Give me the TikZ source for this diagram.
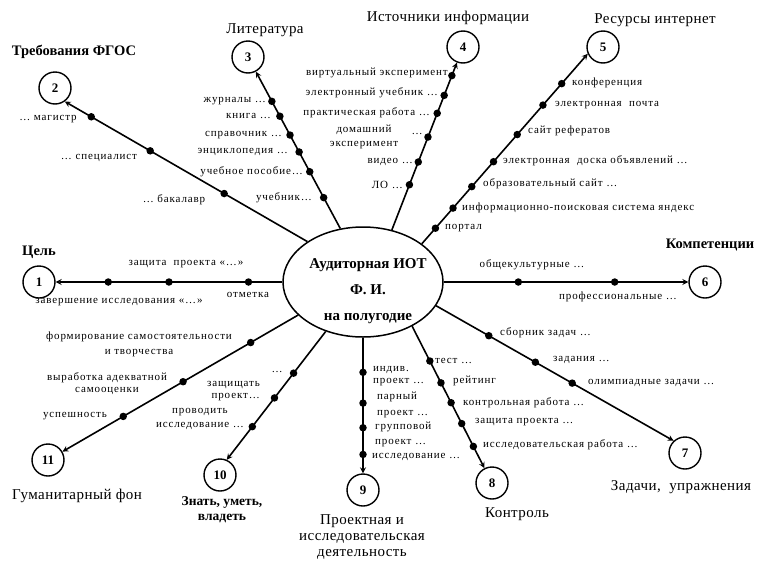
\documentclass[tikz,border=0pt]{standalone}
\usepackage{fontspec}
\setmainfont{Liberation Serif}
\newfontfamily\labelfont[LetterSpace=8]{Liberation Serif}
\newfontfamily\titlefont[LetterSpace=3]{Liberation Serif}
\usetikzlibrary{shapes.geometric}
\tikzset{>=stealth}

\begin{document}
\begin{tikzpicture}[x=1pt, y=-1pt,
  spoke/.style={->, line width=1.6pt},
  dot/.style={circle, fill, inner sep=0pt, minimum size=7.5pt},
  num/.style={circle, draw, line width=1.4pt, minimum size=32pt, inner sep=0pt, font=\bfseries\fontsize{13}{13}\selectfont},
  lab/.style={font=\labelfont\fontsize{11}{13}\selectfont, inner sep=0pt, align=center},
  title/.style={font=\titlefont\fontsize{15}{16}\selectfont, inner sep=0pt, align=center},
  btitle/.style={font=\bfseries\fontsize{14.5}{16}\selectfont, inner sep=0pt, align=center}]
\useasboundingbox (0,0) rectangle (758,560);

\node[ellipse, draw, line width=1.5pt, minimum width=160pt, minimum height=110pt, inner sep=0pt] (iot) at (363,282) {};
\node[align=center, inner sep=0pt, font=\bfseries\fontsize{15}{17}\selectfont] (iottext) at (368,291) {Аудиторная ИОТ\\[9pt]Ф. И.\\[9pt]на полугодие};

\foreach \n/\x/\y in {1/39/282, 2/55/88, 3/248/57, 4/463/47, 5/603/47, 6/705/282, 7/685/453, 8/492/483, 9/363/490, 10/220/475, 11/48/460}
  \node[num] (c\n) at (\x,\y) {\n};

% titles
\node[btitle] (t1) at (39,252) {Цель};
\node[btitle] (t2) at (74,52) {Требования ФГОС};
\node[title] (t3) at (265,30) {Литература};
\node[title] (t4) at (448,18) {Источники информации};
\node[title] (t5) at (655,20) {Ресурсы интернет};
\node[btitle] (t6) at (710,245) {Компетенции};
\node[title] (t7) at (681,487) {Задачи,\ \ упражнения};
\node[title] (t8) at (517,514) {Контроль};
\node[title] (t9) at (362,537) {Проектная и\\исследовательская\\деятельность};
\node[btitle, font=\bfseries\fontsize{13.5}{15}\selectfont] (t10) at (222,510) {Знать, уметь,\\владеть};
\node[title] (t11) at (77,496) {Гуманитарный фон};

% spokes
\draw[spoke] (iot.180) -- (c1) node[dot, pos=0.149] (d1a) {} node[dot, pos=0.5] (d1b) {} node[dot, pos=0.768] (d1c) {};
\draw[spoke] (iot.144.4) -- (c2.-54) node[dot, pos=0.343] (d2a) {} node[dot, pos=0.648] (d2b) {} node[dot, pos=0.891] (d2c) {};
\draw[spoke] (iot.113.5) -- (c3) node[dot, pos=0.197] (d3a) {} node[dot, pos=0.362] (d3b) {} node[dot, pos=0.488] (d3c) {}
  node[dot, pos=0.596] (d3d) {} node[dot, pos=0.716] (d3e) {} node[dot, pos=0.811] (d3f) {};
\draw[spoke] (iot.61.1) -- (c4) node[dot, pos=0.27] (d4a) {} node[dot, pos=0.406] (d4b) {} node[dot, pos=0.555] (d4c) {}
  node[dot, pos=0.697] (d4d) {} node[dot, pos=0.804] (d4e) {} node[dot, pos=0.922] (d4f) {};
\draw[spoke] (iot.33.9) -- (c5.204) node[dot, pos=0.082] (d5a) {} node[dot, pos=0.188] (d5b) {} node[dot, pos=0.301] (d5c) {}
  node[dot, pos=0.432] (d5d) {} node[dot, pos=0.575] (d5e) {} node[dot, pos=0.73] (d5f) {} node[dot, pos=0.843] (d5g) {};
\draw[spoke] (iot.0) -- (c6) node[dot, pos=0.305] (d6a) {} node[dot, pos=0.699] (d6b) {};
\draw[spoke] (iot.-18.9) -- (c7.133) node[dot, pos=0.222] (d7a) {} node[dot, pos=0.418] (d7b) {} node[dot, pos=0.573] (d7c) {};
\draw[spoke] (iot.-42.7) -- (c8) node[dot, pos=0.245] (d8a) {} node[dot, pos=0.399] (d8b) {} node[dot, pos=0.539] (d8c) {}
  node[dot, pos=0.686] (d8d) {} node[dot, pos=0.847] (d8e) {};
\draw[spoke] (iot.-90) -- (c9) node[dot, pos=0.255] (d9a) {} node[dot, pos=0.482] (d9b) {} node[dot, pos=0.664] (d9c) {} node[dot, pos=0.861] (d9d) {};
\draw[spoke] (iot.-127.4) -- (c10.66) node[dot, pos=0.325] (d10a) {} node[dot, pos=0.518] (d10b) {} node[dot, pos=0.742] (d10c) {};
\draw[spoke] (iot.-153) -- (c11) node[dot, pos=0.201] (d11a) {} node[dot, pos=0.488] (d11b) {} node[dot, pos=0.742] (d11c) {};

% labels: 1
\node[lab] (l1a) at (186,264) {защита\ \ проекта «…»};
\node[lab] (l1b) at (119,302) {завершение исследования «…»};
\node[lab] (l1c) at (248,295) {отметка};
% 2
\node[lab] (l2a) at (174,200) {… бакалавр};
\node[lab] (l2b) at (99,158) {… специалист};
\node[lab] (l2c) at (48,119) {… магистр};
% 3
\node[lab, anchor=east] (l3a) at (312,198) {учебник…};
\node[lab, anchor=east] (l3b) at (303,172) {учебное пособие…};
\node[lab, anchor=east] (l3c) at (288,152) {энциклопедия …};
\node[lab, anchor=east] (l3d) at (282,135) {справочник …};
\node[lab, anchor=east] (l3e) at (271,116) {книга …};
\node[lab, anchor=east] (l3f) at (266,101) {журналы …};
% 4
\node[lab, anchor=east] (l4a) at (403,185) {ЛО …};
\node[lab, anchor=east] (l4b) at (413,162) {видео …};
\node[lab] (l4c) at (364,137) {домашний\\[1pt]эксперимент};
\node[lab] (l4d) at (417,134) {…};
\node[lab, anchor=east] (l4e) at (430,113) {практическая работа …};
\node[lab, anchor=east] (l4f) at (438,93) {электронный учебник …};
\node[lab, anchor=east] (l4g) at (448,73) {виртуальный эксперимент};
% 5
\node[lab, anchor=west] (l5a) at (445,228) {портал};
\node[lab, anchor=west] (l5b) at (462,208) {информационно-поисковая система яндекс};
\node[lab, anchor=west] (l5c) at (483,184) {образовательный сайт …};
\node[lab, anchor=west] (l5d) at (503,161) {электронная\ \ доска объявлений …};
\node[lab, anchor=west] (l5e) at (528,131) {сайт рефератов};
\node[lab, anchor=west] (l5f) at (555,105) {электронная\ \ почта};
\node[lab, anchor=west] (l5g) at (572,83) {конференция};
% 6
\node[lab] (l6a) at (532,265) {общекультурные …};
\node[lab] (l6b) at (618,297) {профессиональные …};
% 7
\node[lab, anchor=west] (l7a) at (500,333) {сборник задач …};
\node[lab, anchor=west] (l7b) at (553,360) {задания …};
\node[lab, anchor=west] (l7c) at (588,383) {олимпиадные задачи …};
% 8
\node[lab, anchor=west] (l8a) at (435,361) {тест …};
\node[lab, anchor=west] (l8b) at (453,381) {рейтинг};
\node[lab, anchor=west] (l8c) at (463,403) {контрольная работа …};
\node[lab, anchor=west] (l8d) at (475,422) {защита проекта …};
\node[lab, anchor=west] (l8e) at (483,445) {исследовательская работа …};
% 9
\node[lab, anchor=west, align=left] (l9a) at (373,376) {индив.\\[-1pt]проект …};
\node[lab, anchor=west, align=left] (l9b) at (377,405) {парный\\[3pt]проект …};
\node[lab, anchor=west, align=left] (l9c) at (375,434) {групповой\\[2pt]проект …};
\node[lab, anchor=west] (l9d) at (372,457) {исследование …};
% 10
\node[lab] (l10a) at (277,372) {…};
\node[lab, anchor=east, align=right] (l10b) at (260,391) {защищать\\[-1pt]проект…};
\node[lab] (l10c) at (200,419) {проводить\\[1pt]исследование …};
% 11
\node[lab] (l11a) at (139,344) {формирование самостоятельности\\[2pt]и творчества};
\node[lab] (l11b) at (107,384) {выработка адекватной\\[-1pt]самооценки};
\node[lab] (l11c) at (75,416) {успешность};
\end{tikzpicture}
\end{document}
